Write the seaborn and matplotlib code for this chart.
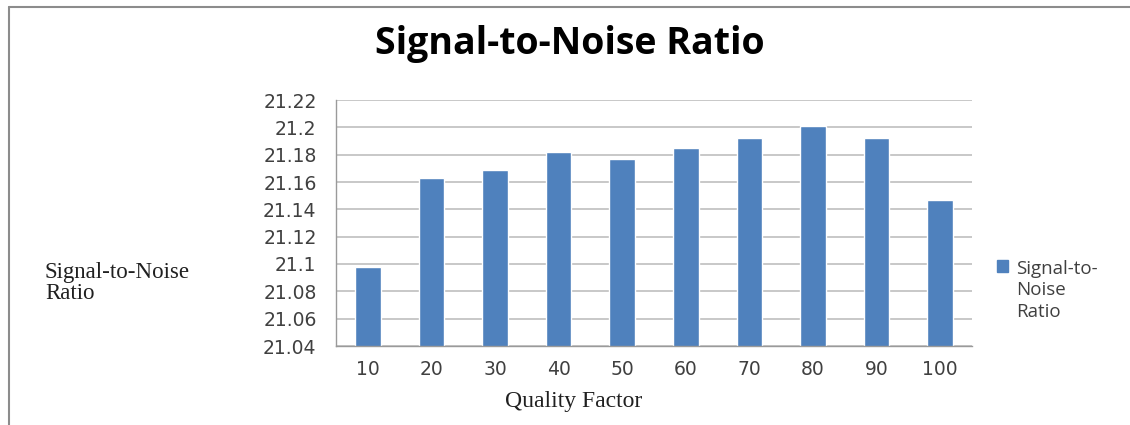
import numpy as np
import pandas as pd
import matplotlib
matplotlib.use('Agg')
import matplotlib.pyplot as plt
import seaborn as sns
from matplotlib.lines import Line2D
from matplotlib.patches import Patch

# values
quality = ['10', '20', '30', '40', '50', '60', '70', '80', '90', '100']
snr = [21.098, 21.163, 21.169, 21.182, 21.177, 21.185, 21.192, 21.201, 21.192, 21.147]
y_ticks = [21.04, 21.06, 21.08, 21.10, 21.12, 21.14, 21.16, 21.18, 21.20, 21.22]
y_labels = ['21.04', '21.06', '21.08', '21.1', '21.12', '21.14', '21.16', '21.18', '21.2', '21.22']

df = pd.DataFrame({'Quality Factor': quality, 'SNR': snr})

sns.set_style('white')
plt.rcParams['font.family'] = ['DejaVu Sans']
bar_color = '#4F81BD'
grid_color = '#BFBFBF'
text_color = '#404040'

fig = plt.figure(figsize=(11.3, 4.25), dpi=100)
ax = fig.add_axes([336 / 1130, 1 - 346 / 425, (972 - 336) / 1130, (346 - 100) / 425])

sns.barplot(data=df, x='Quality Factor', y='SNR', color=bar_color, width=0.4,
            saturation=1, ax=ax)

ax.set_ylim(21.04, 21.22)
ax.set_yticks(y_ticks)
ax.set_yticklabels(y_labels)
ax.set_xlim(-0.5, len(quality) - 0.5)
ax.yaxis.grid(True, color=grid_color, linewidth=1.2)
ax.set_axisbelow(True)

for s in ['top', 'right']:
    ax.spines[s].set_visible(False)
for s in ['left', 'bottom']:
    ax.spines[s].set_color('#9A9A9A')
    ax.spines[s].set_linewidth(1.0)

ax.tick_params(axis='y', which='major', length=8, color='#9A9A9A', direction='out',
               labelsize=13.5, labelcolor=text_color, pad=6)
ax.tick_params(axis='x', which='major', length=0, labelsize=13.5, labelcolor=text_color, pad=10)
ax.set_xticks(np.arange(-0.5, len(quality), 1.0), minor=True)
ax.tick_params(axis='x', which='minor', length=6, color='#9A9A9A', direction='out')

ax.set_xlabel('')
ax.set_ylabel('')

# axis titles in serif, as in the reference
fig.text(574 / 1130, 1 - 401 / 425, 'Quality Factor', ha='center', va='center',
         family='Liberation Serif', fontsize=17, color='#202020')
fig.text(45 / 1130, 1 - 283 / 425, 'Signal-to-Noise\nRatio', ha='left', va='center',
         family='Liberation Serif', fontsize=16.5, color='#202020', linespacing=1.0)

fig.text(570 / 1130, 1 - 44 / 425, 'Signal-to-Noise Ratio', ha='center', va='center',
         family='Open Sans', fontweight='bold', fontsize=27, color='#000000')

handle = Patch(facecolor=bar_color, edgecolor=bar_color)
leg = fig.legend([handle], ['Signal-to-\nNoise\nRatio'], loc='upper left',
                 bbox_to_anchor=(980 / 1130, 1 - 243 / 425), frameon=False,
                 handlelength=0.6, handleheight=0.6, handletextpad=0.4,
                 prop={'family': 'Open Sans', 'size': 13.5})
for t in leg.get_texts():
    t.set_color(text_color)
    t.set_linespacing(1.25)
# put the square next to the first line of the label
for col in leg._legend_handle_box.get_children():
    for row in col.get_children():
        row.align = 'top'

# outer frame lines (top and left) like the screenshot
fig.add_artist(Line2D([9 / 1130, 9 / 1130], [0, 1 - 7 / 425], color='#8C8C8C', linewidth=1.5))
fig.add_artist(Line2D([9 / 1130, 1], [1 - 7 / 425, 1 - 7 / 425], color='#8C8C8C', linewidth=1.5))

plt.savefig('out.png', dpi=100)
plt.close()
